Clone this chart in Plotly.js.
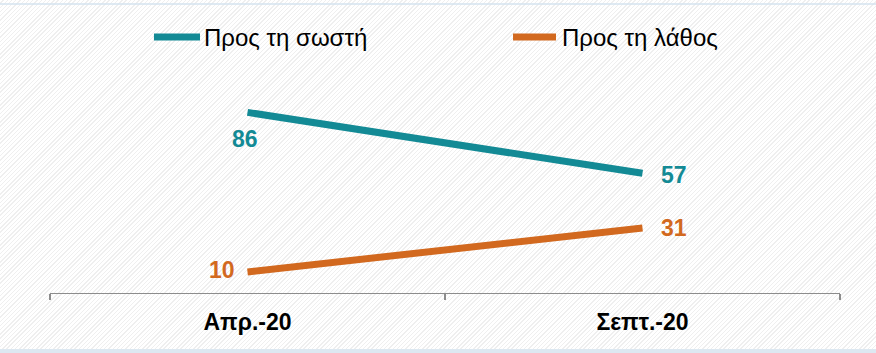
<!DOCTYPE html>
<html>
<head>
<meta charset="utf-8">
<script src="https://cdn.plot.ly/plotly-3.0.1.min.js"></script>
<style>
  html, body { margin: 0; padding: 0; }
  body {
    width: 876px; height: 353px; overflow: hidden;
    background: repeating-linear-gradient(135deg, #ffffff 0px, #ffffff 2px, #efefef 2px, #efefef 3px);
  }
  #chart { width: 876px; height: 353px; }
</style>
</head>
<body>
<div id="chart"></div>
<script>
const categories = ["Απρ.-20", "Σεπτ.-20"];
const seriesNames = ["Προς τη σωστή", "Προς τη λάθος"];
const correctValues = [86, 57];
const wrongValues = [10, 31];

const teal = "#138a95";
const orange = "#d2691f";
const FONT = "Liberation Sans, Arial, sans-serif";

const traces = [
  {
    x: categories, y: correctValues, name: seriesNames[0],
    type: "scatter", mode: "lines",
    line: { color: teal, width: 7 },
    hoverinfo: "skip", showlegend: false
  },
  {
    x: categories, y: wrongValues, name: seriesNames[1],
    type: "scatter", mode: "lines",
    line: { color: orange, width: 7 },
    hoverinfo: "skip", showlegend: false
  }
];

const labelFont = (c) => ({ family: FONT, size: 23, color: c, weight: "bold" });
const annotations = [
  { x: categories[0], y: correctValues[0], text: "<b>" + correctValues[0] + "</b>", showarrow: false, xshift: -3, yshift: -27, font: labelFont(teal) },
  { x: categories[1], y: correctValues[1], text: "<b>" + correctValues[1] + "</b>", showarrow: false, xshift: 31, yshift: -2, font: labelFont(teal) },
  { x: categories[0], y: wrongValues[0], text: "<b>" + wrongValues[0] + "</b>", showarrow: false, xshift: -26, yshift: 2, font: labelFont(orange) },
  { x: categories[1], y: wrongValues[1], text: "<b>" + wrongValues[1] + "</b>", showarrow: false, xshift: 31, yshift: 0, font: labelFont(orange) }
];

// custom legend (samples + names), positioned in paper coordinates
const legendY = 1.219;
const legendItems = [
  { name: seriesNames[0], color: teal, x0: 0.1316, x1: 0.1899, tx: 0.1924 },
  { name: seriesNames[1], color: orange, x0: 0.5861, x1: 0.6405, tx: 0.6456 }
];
const shapes = [
  { type: "line", xref: "paper", yref: "paper", x0: -0.07, x1: 1.05, y0: 1.376, y1: 1.376, line: { color: "#d5e3ef", width: 1.5 } },
  { type: "rect", xref: "paper", yref: "paper", x0: -0.07, x1: 1.05, y0: -0.267, y1: -0.29, fillcolor: "#dde8f1", line: { width: 0 } }
];
legendItems.forEach(it => {
  shapes.push({ type: "line", xref: "paper", yref: "paper", x0: it.x0, x1: it.x1, y0: legendY, y1: legendY, line: { color: it.color, width: 7 } });
  annotations.push({ xref: "paper", yref: "paper", x: it.tx, y: legendY, xanchor: "left", yanchor: "middle", showarrow: false, text: it.name, font: { family: FONT, size: 24, color: "#000000" } });
});

const layout = {
  width: 876, height: 353,
  margin: { l: 50, r: 36, t: 83, b: 60 },
  paper_bgcolor: "rgba(0,0,0,0)",
  plot_bgcolor: "rgba(0,0,0,0)",
  showlegend: false,
  xaxis: {
    type: "category", range: [-0.5, 1.5], fixedrange: true,
    showline: true, linecolor: "#8c8c8c", linewidth: 1.3,
    ticks: "outside", tickson: "boundaries", ticklen: 6, tickcolor: "#8c8c8c", tickwidth: 1.3,
    showgrid: false, zeroline: false,
    tickfont: { family: FONT, size: 23, color: "#000000", weight: "bold" },
    ticklabelstandoff: 8
  },
  yaxis: {
    range: [0, 100], fixedrange: true,
    showticklabels: false, showgrid: false, zeroline: false, showline: false, ticks: ""
  },
  annotations: annotations,
  shapes: shapes
};

Plotly.newPlot("chart", traces, layout, { displayModeBar: false, staticPlot: true });
</script>
</body>
</html>
